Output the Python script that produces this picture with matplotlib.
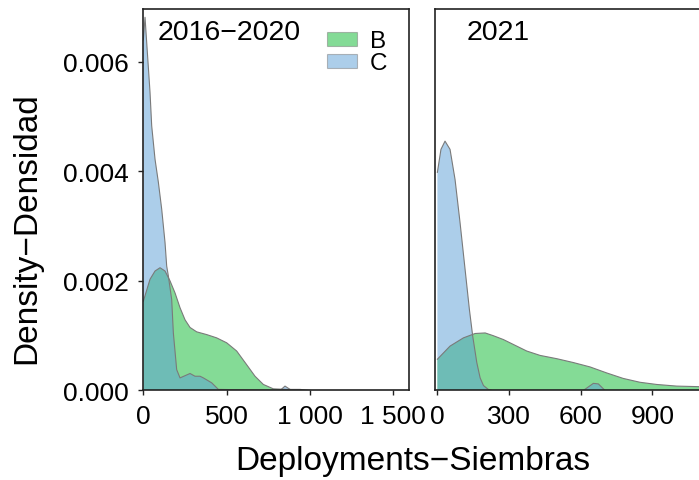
import matplotlib
matplotlib.use("Agg")
import matplotlib.pyplot as plt
from matplotlib.patches import Patch

plt.rcParams['font.family'] = ['Liberation Sans', 'DejaVu Sans']

# Panel 1: 2016-2020
p1_b_x = [0, 40, 70, 100, 130, 160, 190, 220, 250, 280, 320, 380, 440, 500, 560, 620, 670, 720, 780, 860, 940, 1000]
p1_b_y = [0.00163, 0.00203, 0.00218, 0.00224, 0.00218, 0.00200, 0.00178, 0.00151, 0.00129, 0.00115, 0.00107,
          0.00102, 0.00096, 0.00087, 0.00072, 0.00047, 0.00026, 0.00011, 0.00003, 0.00002, 0.00002, 0.0]
p1_c_x = [0, 10, 20, 40, 50, 70, 90, 110, 130, 140, 150, 170, 180, 200, 220, 250, 280, 310, 340, 360, 410,
          450, 820, 850, 890, 1000]
p1_c_y = [0.0064, 0.00681, 0.00635, 0.00544, 0.00483, 0.00422, 0.00380, 0.00331, 0.00270, 0.00227, 0.00209,
          0.00166, 0.00105, 0.00038, 0.00023, 0.00027, 0.00031, 0.00026, 0.00026, 0.00023, 0.00014,
          0.00002, 0.0, 0.00008, 0.0, 0.0]

# Panel 2: 2021
p2_b_x = [0, 53, 109, 158, 200, 234, 276, 318, 374, 430, 500, 569, 639, 709, 778, 848, 918, 1002, 1094, 1110]
p2_b_y = [0.00057, 0.00081, 0.00096, 0.00104, 0.00105, 0.00100, 0.00093, 0.00084, 0.00072, 0.00064, 0.00058,
          0.00051, 0.00043, 0.00032, 0.00022, 0.00015, 0.00011, 0.00008, 0.00007, 0.00007]
p2_c_x = [0, 15, 32, 53, 74, 95, 116, 134, 148, 165, 179, 193, 213, 230, 611, 653, 674, 702, 720]
p2_c_y = [0.00398, 0.00440, 0.00455, 0.00440, 0.00385, 0.00306, 0.00221, 0.00148, 0.00099, 0.00051, 0.00023,
          0.00009, 0.00002, 0.0, 0.0, 0.00013, 0.00012, 0.0, 0.0]

panel_titles = ['2016\u22122020', '2021']
series_names = ['B', 'C']
y_ticks = [0.0, 0.002, 0.004, 0.006]
y_tick_labels = ['0.000', '0.002', '0.004', '0.006']
p1_x_ticks = [0, 500, 1000, 1500]
p1_x_labels = ['0', '500', '1 000', '1 500']
p2_x_ticks = [0, 300, 600, 900]
p2_x_labels = ['0', '300', '600', '900']

GREEN = '#0bb92e'
BLUE = '#5a9fd6'
EDGE = '#7a7a7a'
ALPHA = 0.5

fig = plt.figure(figsize=(6.99, 4.81), dpi=100)
ax1 = fig.add_axes([0.2039, 0.1861, 0.3817, 0.7941])
ax2 = fig.add_axes([0.6223, 0.1861, 0.3817, 0.7941])


def draw_density(ax, x, y, color):
    ax.fill_between(x, y, 0, facecolor=color, alpha=ALPHA, linewidth=0)
    ax.plot(x, y, color=EDGE, linewidth=0.8)


draw_density(ax1, p1_b_x, p1_b_y, GREEN)
draw_density(ax1, p1_c_x, p1_c_y, BLUE)
draw_density(ax2, p2_b_x, p2_b_y, GREEN)
draw_density(ax2, p2_c_x, p2_c_y, BLUE)

ax1.set_xlim(-5, 1596)
ax2.set_xlim(-10, 1107)

for ax, ticks, labels, title, tx in [(ax1, p1_x_ticks, p1_x_labels, panel_titles[0], 0.058),
                                     (ax2, p2_x_ticks, p2_x_labels, panel_titles[1], 0.119)]:
    ax.set_ylim(0, 0.00697)
    ax.set_xticks(ticks)
    ax.set_xticklabels(labels)
    for s in ax.spines.values():
        s.set_linewidth(1.2)
        s.set_color('#222222')
    ax.tick_params(axis='both', direction='out', length=3.6, width=1.0, color='#222222',
                   labelsize=19, pad=6)
    ax.text(tx, 0.92, title, transform=ax.transAxes, fontsize=20.5, va='baseline', ha='left')

ax1.set_yticks(y_ticks)
ax1.set_yticklabels(y_tick_labels)
ax2.set_yticks([])

handles = [Patch(facecolor=GREEN, alpha=ALPHA, edgecolor=EDGE, linewidth=0.8),
           Patch(facecolor=BLUE, alpha=ALPHA, edgecolor=EDGE, linewidth=0.8)]
ax1.legend(handles, series_names, loc='upper right', bbox_to_anchor=(1.0, 1.0), frameon=False,
           fontsize=17.5, handlelength=1.2, handleheight=0.5, handletextpad=0.55,
           labelspacing=0.0, borderaxespad=0.6, borderpad=0.3)

fig.text(27 / 699, 1 - 228 / 481, 'Density\u2212Densidad', rotation=90, fontsize=24,
         ha='center', va='center')
fig.text(413 / 699, 1 - 470 / 481, 'Deployments\u2212Siembras', fontsize=24,
         ha='center', va='baseline')

fig.savefig('out.png', dpi=100)
